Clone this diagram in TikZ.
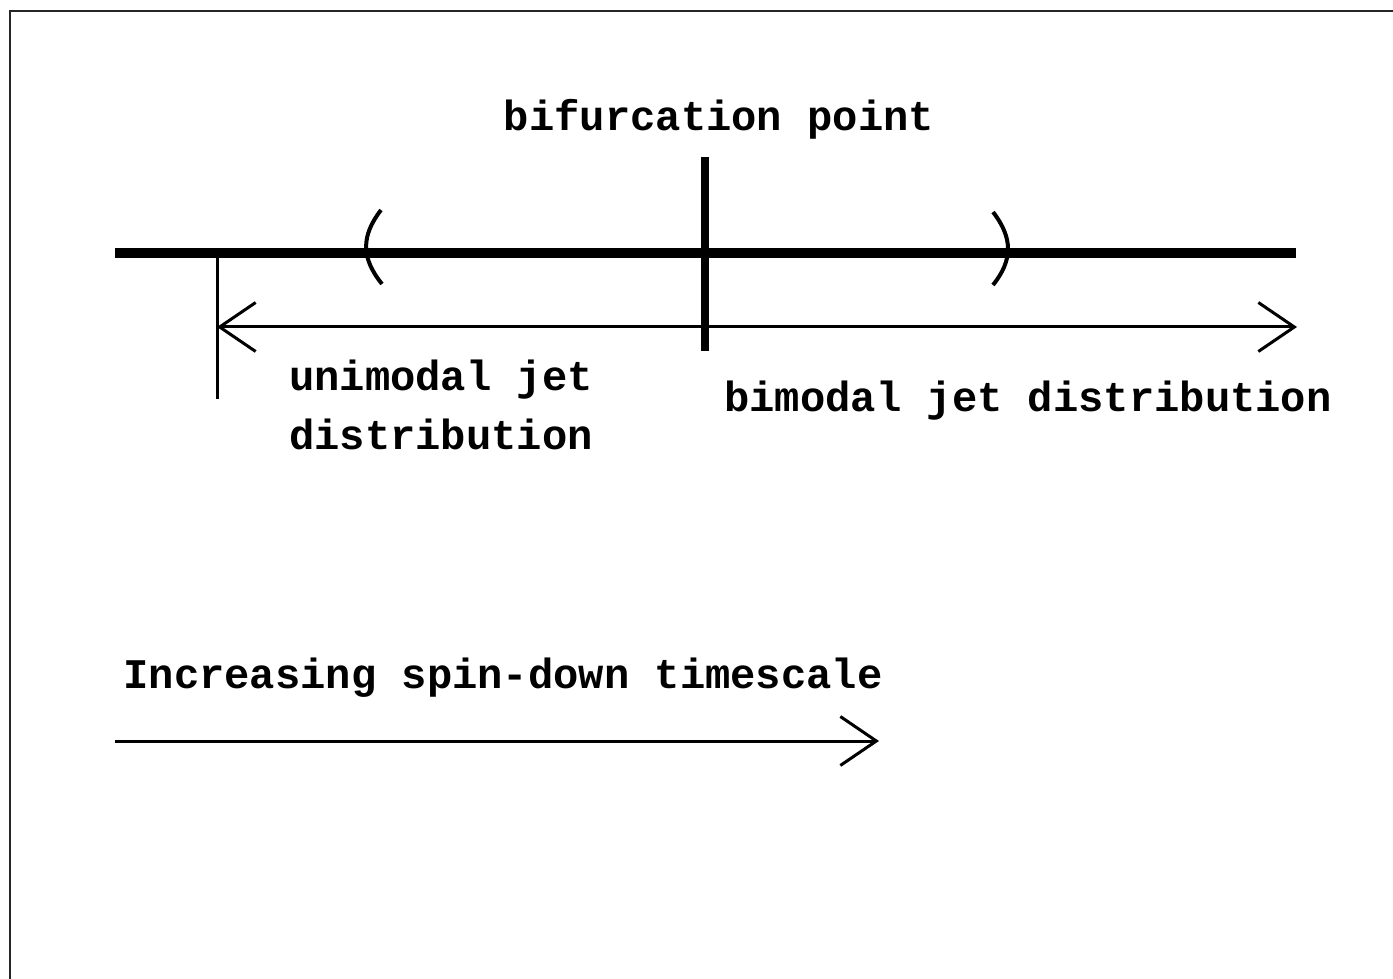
\documentclass[tikz,border=0pt]{standalone}
\usepackage{fontspec}
\setmonofont{Liberation Mono}
\usetikzlibrary{arrows.meta}
\tikzset{
  page frame/.style={line width=0.04cm, black!85},
  axis line/.style={line width=0.2cm},
  bif line/.style={line width=0.16cm},
  thin line/.style={line width=0.06cm},
  paren/.style={line width=0.08cm},
  barb/.tip={Straight Barb[length=0.72cm,width=0.98cm,line width=0.06cm]},
  open head/.style={thin line, -barb},
  both heads/.style={thin line, barb-barb},
  label text/.style={font=\ttfamily\bfseries\fontsize{24}{34}\selectfont, inner sep=0pt},
}

\begin{document}
\begin{tikzpicture}[x=0.02cm, y=-0.02cm]
\useasboundingbox (0,0) rectangle (1393,979);

% frame (only top and left edges are on the page)
\coordinate (frame tr) at (1393,11);
\coordinate (frame tl) at (10,11);
\coordinate (frame bl) at (10,979);
\draw[page frame] (frame tr) -- (frame tl) -- (frame bl);

% main axis with the bifurcation mark
\coordinate (axis left) at (115,253);
\coordinate (axis right) at (1296,253);
\coordinate (bif top) at (705,157);
\coordinate (bif bottom) at (705,351);
\draw[axis line] (axis left) -- (axis right);
\draw[bif line] (bif top) -- (bif bottom);

% interval brackets
\draw[paren] (381,210) .. controls (361,236) and (361,258) .. (382,284);
\draw[paren] (993,212) .. controls (1013,238) and (1013,260) .. (993,285);

% range arrow below the axis
\coordinate (tick top) at (217,258);
\coordinate (tick bottom) at (217,399);
\coordinate (range left) at (217,327);
\coordinate (range right) at (1297,327);
\draw[thin line] (tick top) -- (tick bottom);
\draw[both heads] (range left) -- (range right);

\node[label text, anchor=base] (bif label) at (719,131) {bifurcation point};
\node[label text, align=center] (uni label) at (441,405) {unimodal jet\\distribution};
\node[label text, anchor=base] (bi label) at (1028,412) {bimodal jet distribution};

% timescale direction
\node[label text, anchor=base] (time label) at (503,688) {Increasing spin-down timescale};
\coordinate (time left) at (115,741);
\coordinate (time right) at (879,741);
\draw[open head] (time left) -- (time right);
\end{tikzpicture}
\end{document}
